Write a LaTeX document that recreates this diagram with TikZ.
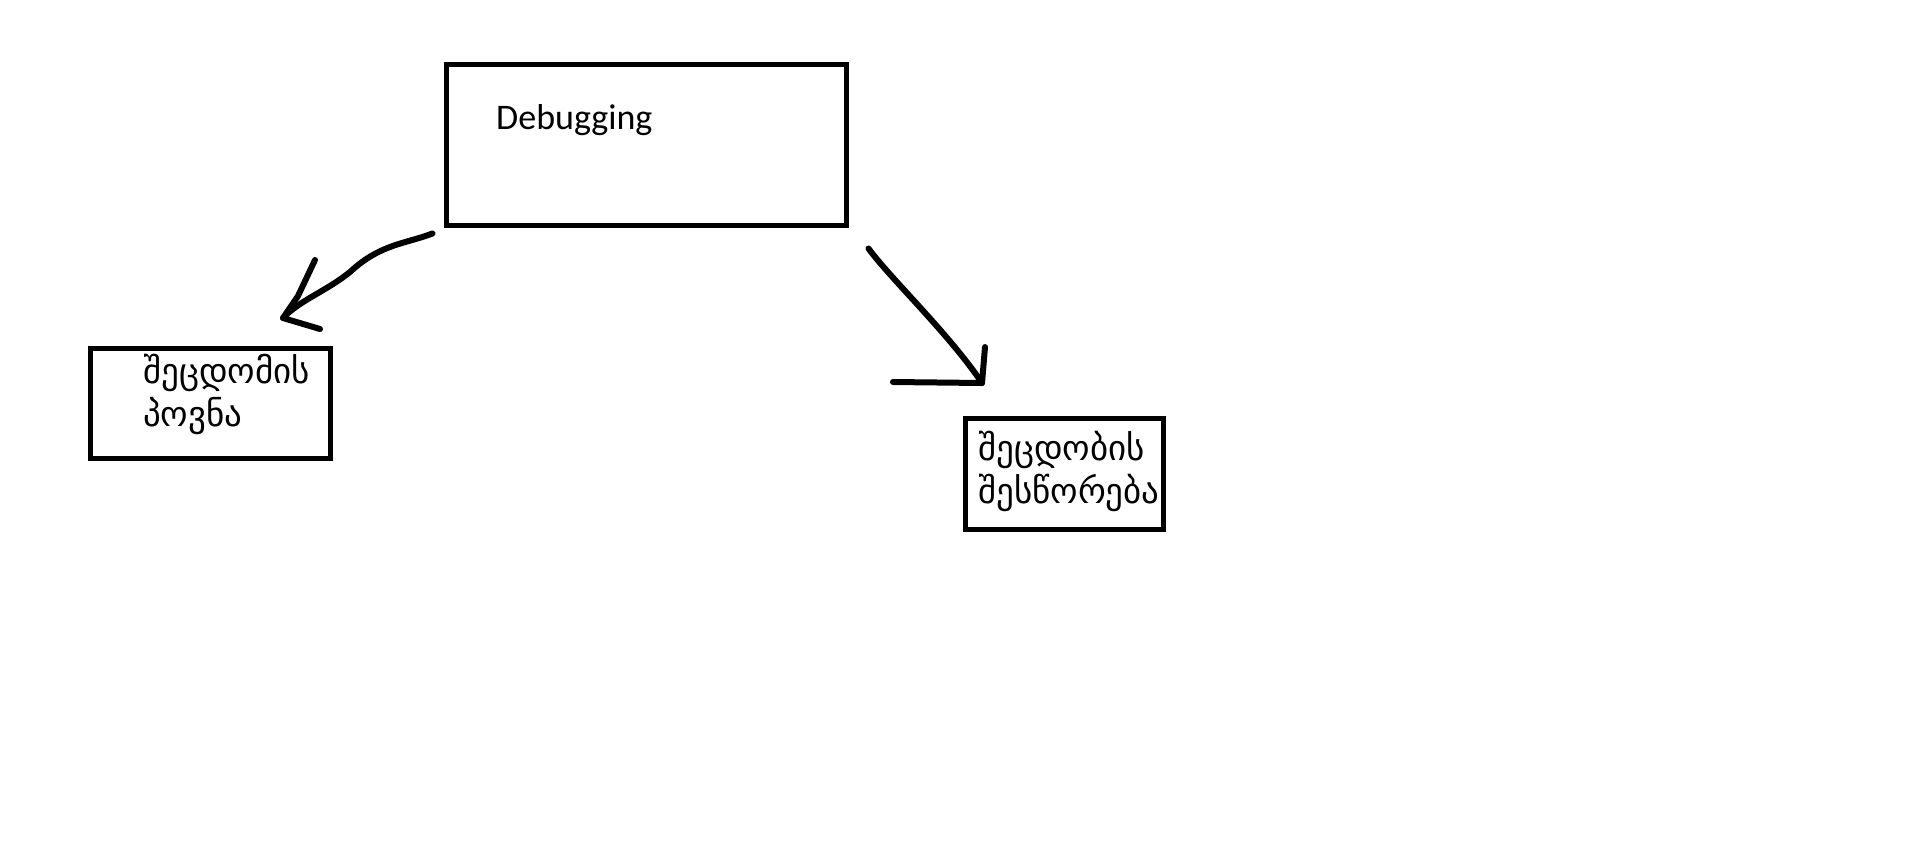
\documentclass[tikz,border=0pt]{standalone}
\usepackage{fontspec}
\setmainfont{Carlito}
\newfontfamily\geofont{DejaVu Sans}
\usepackage{tikz}

\begin{document}
\begin{tikzpicture}[x=1pt, y=-1pt]
			\tikzset{
				box/.style={draw, line width=5pt, outer sep=0pt, inner sep=0pt},
				pen/.style={line width=6pt, line cap=round, line join=round},
				geo/.style={font=\geofont\fontsize{35}{43}\selectfont, align=left, inner sep=0pt}
			}
			\useasboundingbox (0,0) rectangle (1912,860);

			% boxes
			\node[box, minimum width=400pt, minimum height=161pt] (debug) at (646.5,145) {};
			\node[box, minimum width=240pt, minimum height=110pt] (find) at (210,403.5) {};
			\node[box, minimum width=198pt, minimum height=111pt] (fix) at (1064.5,473.5) {};

			\node[anchor=base west, inner sep=0pt, font=\fontsize{36}{43}\selectfont] (debugtxt) at (496,129) {Debugging};
			\node[geo, anchor=base west] (findtxt) at (143,426) {შეცდომის\\პოვნა};
			\node[geo, anchor=base west] (fixtxt) at (978,503) {შეცდობის\\შესწორება};

			% arrows
			\coordinate (lt) at (283,318);
			\coordinate (rt) at (982,383);
			\draw[pen] ([shift={(-14,8)}]debug.south west) .. controls (405,244) and (380,244) .. (350,272) .. controls (325,292) and (300,300) .. (lt);
			\draw[pen] ([shift={(32,-58)}]lt) -- ([shift={(15,-22)}]lt) -- (lt) -- ([shift={(37,11)}]lt);

			\draw[pen] ([shift={(22,23)}]debug.south east) .. controls (890,278) and (950,335) .. (rt);
			\draw[pen] ([shift={(3,-36)}]rt) -- (rt) -- ([shift={(-89,-1)}]rt);
		\end{tikzpicture}
\end{document}
